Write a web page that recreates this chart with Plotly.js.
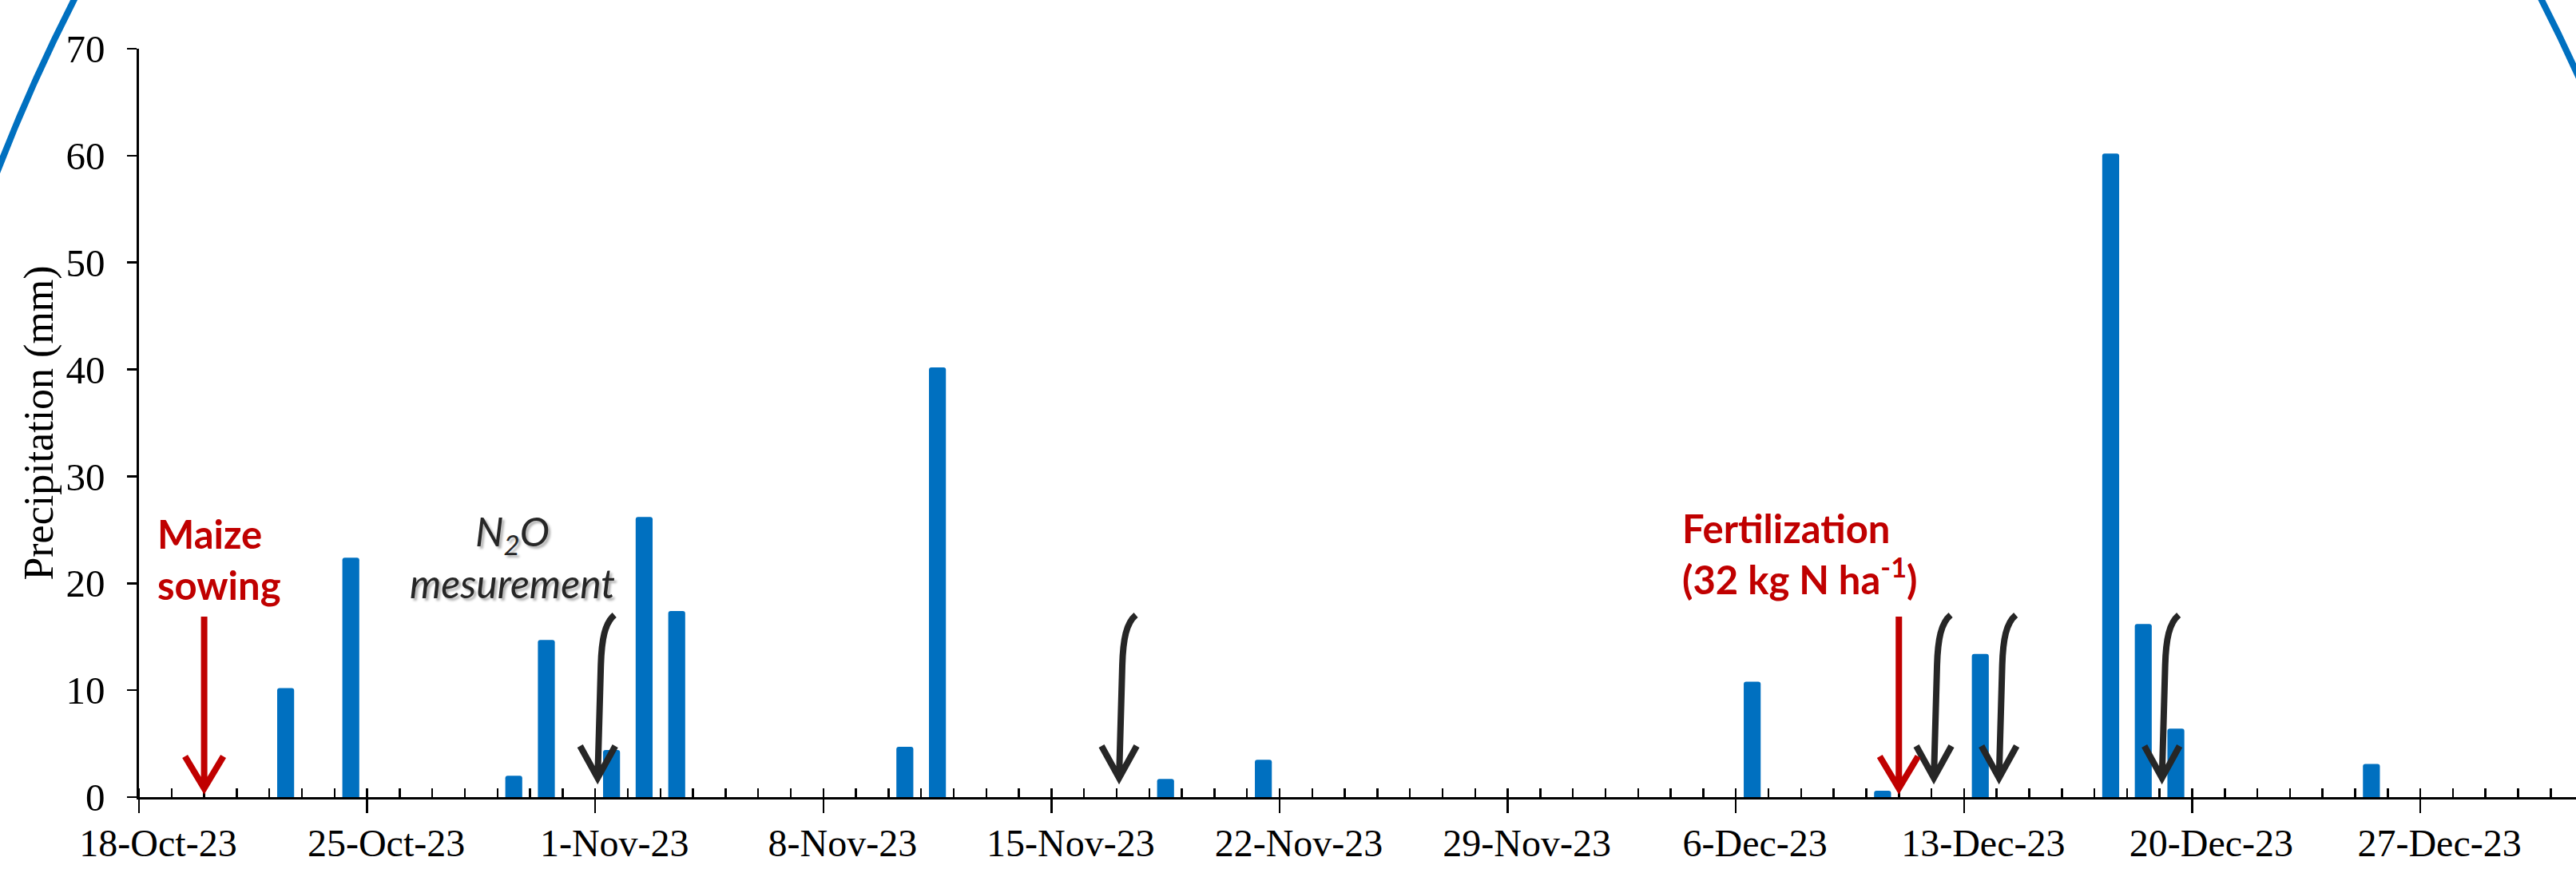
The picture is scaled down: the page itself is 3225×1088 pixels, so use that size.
<!DOCTYPE html>
<html>
<head>
<meta charset="utf-8">
<script src="https://cdn.plot.ly/plotly-3.0.1.min.js"></script>
<style>html,body{margin:0;padding:0;background:#fff;}#chart{width:3225px;height:1088px;}</style>
</head>
<body>
<div id="chart"></div>
<script>
// ---- data ----
const rainDates = ['2023-10-22','2023-10-24','2023-10-29','2023-10-30','2023-11-01','2023-11-02','2023-11-03',
                   '2023-11-10','2023-11-11','2023-11-18','2023-11-21','2023-12-06','2023-12-10','2023-12-13',
                   '2023-12-17','2023-12-18','2023-12-19','2023-12-25'];
const precipitation = [10.2, 22.4, 2.0, 14.7, 4.4, 26.2, 17.4, 4.7, 40.2, 1.7, 3.5, 10.8, 0.6, 13.4, 60.2, 16.2, 6.4, 3.1];
const sowingDate = '2023-10-20';
const fertilizationDate = '2023-12-11';
const n2oDates = ['2023-11-01','2023-11-17','2023-12-12','2023-12-14','2023-12-19'];
const sowingLabel = 'Maize<br>sowing';
const n2oLabel = 'N<sub>2</sub>O<br>mesurement';
const fertLabel = 'Fertilization<br>(32 kg N ha<sup>-1</sup>)';
const yTitle = 'Precipitation (mm)';

const DAY = 86400000;
const blue = '#0070C0', red = '#C00000', ink = '#262626';
const serif = '"Liberation Serif", "Times New Roman", serif';
const sans = 'Lato, "Open Sans", sans-serif';

const trace = {
  type: 'bar', x: rainDates, y: precipitation,
  xperiod: DAY, xperiodalignment: 'middle',
  width: 0.52 * DAY,
  marker: {color: blue, cornerradius: 3, line: {width: 0}},
  hoverinfo: 'skip'
};

// hand-drawn style arrows, pixel-sized, anchored at event dates on the zero line
const blackArrowPath = 'M 24 228 C 12 218 8 198 7 165 L 3 24 M -19 64 L 3 24 L 25 64';
const redArrowPath = 'M 0 226 L 0 11 M -24 51 L 0 11 L 24 51';
function arrowShape(date, path, color, w) {
  return {type: 'path', xref: 'x', yref: 'y', xsizemode: 'pixel', ysizemode: 'pixel',
          xanchor: date, yanchor: 0, path: path, line: {color: color, width: w}, layer: 'above'};
}
const shapes = [];
n2oDates.forEach(d => shapes.push(arrowShape(d, blackArrowPath, ink, 8)));
shapes.push(arrowShape(sowingDate, redArrowPath, red, 8));
shapes.push(arrowShape(fertilizationDate, redArrowPath, red, 8));
// decorative blue ellipse (only its top corners are visible)
shapes.push({type: 'circle', xref: 'paper', yref: 'paper', x0: -0.1108, x1: 1.0700, y0: -2.3533, y1: 2.1612,
             line: {color: blue, width: 8}, fillcolor: 'rgba(0,0,0,0)', layer: 'above'});

const annotations = [
  {x: sowingDate, y: 0, xref: 'x', yref: 'y', text: sowingLabel, showarrow: false,
   xanchor: 'left', yanchor: 'bottom', align: 'left', xshift: -61, yshift: 235,
   font: {family: sans, size: 49, color: red, weight: 700}},
  {x: n2oDates[0], y: 0, xref: 'x', yref: 'y', text: n2oLabel, showarrow: false,
   xanchor: 'center', yanchor: 'bottom', align: 'center', xshift: -104, yshift: 236,
   font: {family: sans, size: 50, color: ink, style: 'italic', shadow: '3px 3px 3px rgba(0,0,0,0.3)'}},
  {x: fertilizationDate, y: 0, xref: 'x', yref: 'y', text: fertLabel, showarrow: false,
   xanchor: 'left', yanchor: 'bottom', align: 'left', xshift: -273, yshift: 242,
   font: {family: sans, size: 49, color: red, weight: 700}}
];

const layout = {
  width: 3225, height: 1088,
  margin: {l: 174, r: 0, t: 61, b: 90},
  paper_bgcolor: '#fff', plot_bgcolor: '#fff',
  showlegend: false, hovermode: false,
  xaxis: {
    type: 'date', range: ['2023-10-18', '2023-12-31 18:40'],
    tick0: '2023-10-18', dtick: 7 * DAY, tickformat: '%-d-%b-%y',
    ticks: 'outside', ticklen: 17, tickwidth: 2.5, tickcolor: '#000',
    ticklabelshift: 24, ticklabelstandoff: -3,
    minor: {dtick: DAY, tick0: '2023-10-18', ticks: 'inside', ticklen: 11, tickwidth: 2.5, tickcolor: '#000', showgrid: false},
    showline: true, linecolor: '#000', linewidth: 2.6,
    showgrid: false, zeroline: false, fixedrange: true,
    tickfont: {family: serif, size: 48, color: '#000'}
  },
  yaxis: {
    range: [0, 70], dtick: 10, tick0: 0,
    ticks: 'outside', ticklen: 12, tickwidth: 2.5, tickcolor: '#000',
    ticklabelstandoff: 18,
    showline: true, linecolor: '#000', linewidth: 2.6,
    showgrid: false, zeroline: false, fixedrange: true,
    tickfont: {family: serif, size: 49, color: '#000'},
    title: {text: yTitle, font: {family: serif, size: 52, color: '#000'}, standoff: 0}
  },
  shapes: shapes,
  annotations: annotations
};

Plotly.newPlot('chart', [trace], layout, {displayModeBar: false, staticPlot: true});
</script>
</body>
</html>
